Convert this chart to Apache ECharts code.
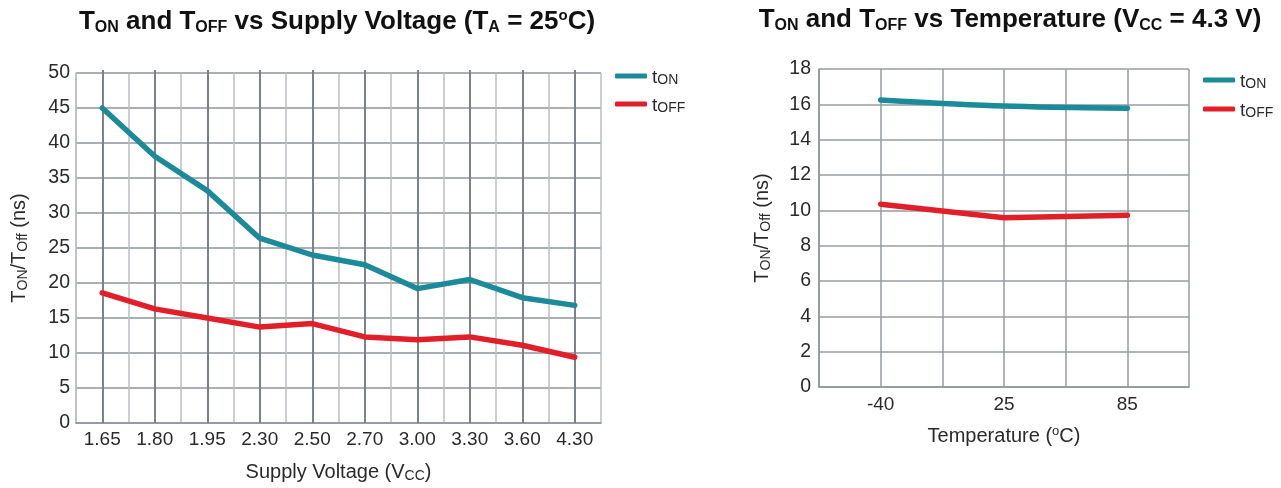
<!DOCTYPE html>
<html>
<head>
<meta charset="utf-8">
<script src="https://cdn.jsdelivr.net/npm/echarts@6/dist/echarts.min.js"></script>
<style>
html,body{margin:0;padding:0;background:#fff;}
#c{width:1281px;height:488px;}
</style>
</head>
<body>
<div id="c"></div>
<script>
// ---- data ----
const voltCategories = ['1.65','1.80','1.95','2.30','2.50','2.70','3.00','3.30','3.60','4.30'];
const voltTon  = [45.0, 38.1, 33.2, 26.4, 24.0, 22.6, 19.2, 20.5, 17.9, 16.8];
const voltToff = [18.6, 16.3, 15.0, 13.7, 14.2, 12.3, 11.9, 12.3, 11.1, 9.4];
const tempCategories = ['-40','25','85'];
const tempTon  = [16.25, 15.9, 15.78];
const tempToff = [10.35, 9.58, 9.72];
const leftYTicks = {min: 0, max: 50, interval: 5};
const rightYTicks = {min: 0, max: 18, interval: 2};

const TEAL = '#1b8a9b';
const RED = '#e11f29';
const FONT = "'Liberation Sans', Arial, sans-serif";
const TXT = '#2a2a2a';

const titleRich = {
  sub: {fontSize: 16, fontWeight: 'bold', fontFamily: FONT, color: '#111', verticalAlign: 'bottom', lineHeight: 28},
  sup: {fontSize: 15, fontWeight: 'bold', fontFamily: FONT, color: '#111', verticalAlign: 'top', lineHeight: 28}
};
const nameRich = {
  sub: {fontSize: 14, fontFamily: FONT, color: TXT, verticalAlign: 'bottom', lineHeight: 22},
  sup: {fontSize: 13, fontFamily: FONT, color: TXT, verticalAlign: 'top', lineHeight: 22}
};
const legendRich = {
  t: {fontSize: 19, fontFamily: FONT, color: TXT, lineHeight: 22, verticalAlign: 'bottom'},
  s: {fontSize: 14, fontFamily: FONT, color: TXT, lineHeight: 22, verticalAlign: 'bottom'}
};
function legendFmt(name){
  return '{t|t}{s|' + name.slice(1) + '}';
}

const chart = echarts.init(document.getElementById('c'), null, {renderer: 'canvas'});
const option = {
  animation: false,
  backgroundColor: '#fff',
  title: [
    {
      text: 'T{sub|ON} and T{sub|OFF} vs Supply Voltage (T{sub|A} = 25{sup|o}C)',
      left: 337, top: 8, textAlign: 'center', padding: 0,
      textStyle: {fontSize: 26, fontWeight: 'bold', fontFamily: FONT, color: '#111', rich: titleRich, lineHeight: 28}
    },
    {
      text: 'T{sub|ON} and T{sub|OFF} vs Temperature (V{sub|CC} = 4.3 V)',
      left: 1010, top: 6, textAlign: 'center', padding: 0,
      textStyle: {fontSize: 26, fontWeight: 'bold', fontFamily: FONT, color: '#111', rich: titleRich, lineHeight: 28}
    }
  ],
  legend: [
    {
      data: ['tON','tOFF'], orient: 'vertical', left: 615, top: 68, padding: 0,
      icon: 'roundRect', itemWidth: 32, itemHeight: 5, itemGap: 9,
      formatter: legendFmt, textStyle: {rich: legendRich}
    },
    {
      data: ['tON','tOFF'], orient: 'vertical', left: 1203, top: 72, padding: 0,
      icon: 'roundRect', itemWidth: 32, itemHeight: 5, itemGap: 10,
      formatter: legendFmt, textStyle: {rich: legendRich}
    }
  ],
  grid: [
    {left: 76, top: 73, width: 525, height: 353},
    {left: 819, top: 69, width: 370, height: 318}
  ],
  xAxis: [
    {
      gridIndex: 0, type: 'category', data: voltCategories, boundaryGap: true,
      name: 'Supply Voltage (V{sub|CC})', nameLocation: 'middle', nameGap: 38,
      nameTextStyle: {fontSize: 20, fontFamily: FONT, color: TXT, rich: nameRich, lineHeight: 22},
      axisLine: {show: true, lineStyle: {color: '#8d959c', width: 1.5}},
      axisTick: {show: true, alignWithLabel: true, inside: true, length: 353, interval: 0, lineStyle: {color: '#7b838a', width: 2}},
      axisLabel: {interval: 0, margin: 7, fontSize: 19, fontFamily: FONT, color: TXT},
      splitLine: {show: true, interval: 0, lineStyle: {color: '#b8bec3', width: 1.5}}
    },
    {
      gridIndex: 1, type: 'category', data: tempCategories, boundaryGap: true,
      name: 'Temperature ({sup|o}C)', nameLocation: 'middle', nameGap: 38,
      nameTextStyle: {fontSize: 20, fontFamily: FONT, color: TXT, rich: nameRich, lineHeight: 22},
      axisLine: {show: true, lineStyle: {color: '#8d959c', width: 1.5}},
      axisTick: {show: true, alignWithLabel: true, inside: true, length: 318, interval: 0, lineStyle: {color: '#959ca2', width: 1.5}},
      axisLabel: {interval: 0, margin: 8, fontSize: 19, fontFamily: FONT, color: TXT},
      splitLine: {show: true, interval: 0, lineStyle: {color: '#959ca2', width: 1.5}}
    }
  ],
  yAxis: [
    {
      gridIndex: 0, type: 'value', min: leftYTicks.min, max: leftYTicks.max, interval: leftYTicks.interval,
      name: 'T{sub|ON}/T{sub|Off} (ns)', nameLocation: 'middle', nameGap: 46,
      nameTextStyle: {fontSize: 20, fontFamily: FONT, color: TXT, rich: nameRich, lineHeight: 22},
      axisLine: {show: true, lineStyle: {color: '#b8bec3', width: 1.5}},
      axisTick: {show: false},
      axisLabel: {margin: 6, fontSize: 19.5, fontFamily: FONT, color: TXT},
      splitLine: {show: true, lineStyle: {color: '#8d959c', width: 1.5}}
    },
    {
      gridIndex: 1, type: 'value', min: rightYTicks.min, max: rightYTicks.max, interval: rightYTicks.interval,
      name: 'T{sub|ON}/T{sub|Off} (ns)', nameLocation: 'middle', nameGap: 46,
      nameTextStyle: {fontSize: 20, fontFamily: FONT, color: TXT, rich: nameRich, lineHeight: 22},
      axisLine: {show: true, lineStyle: {color: '#8d959c', width: 1.5}},
      axisTick: {show: false},
      axisLabel: {margin: 8, fontSize: 19.5, fontFamily: FONT, color: TXT},
      splitLine: {show: true, lineStyle: {color: '#959ca2', width: 1.5}}
    }
  ],
  series: [
    {name: 'tON', type: 'line', xAxisIndex: 0, yAxisIndex: 0, data: voltTon, symbol: 'none',
     lineStyle: {color: TEAL, width: 5.5, cap: 'round', join: 'round'}, itemStyle: {color: TEAL}},
    {name: 'tOFF', type: 'line', xAxisIndex: 0, yAxisIndex: 0, data: voltToff, symbol: 'none',
     lineStyle: {color: RED, width: 5.5, cap: 'round', join: 'round'}, itemStyle: {color: RED}},
    {name: 'tON', type: 'line', xAxisIndex: 1, yAxisIndex: 1, data: tempTon, symbol: 'none', smooth: 0.3,
     lineStyle: {color: TEAL, width: 5.5, cap: 'round', join: 'round'}, itemStyle: {color: TEAL}},
    {name: 'tOFF', type: 'line', xAxisIndex: 1, yAxisIndex: 1, data: tempToff, symbol: 'none',
     lineStyle: {color: RED, width: 5.5, cap: 'round', join: 'round'}, itemStyle: {color: RED}}
  ]
};
chart.setOption(option);
</script>
</body>
</html>
